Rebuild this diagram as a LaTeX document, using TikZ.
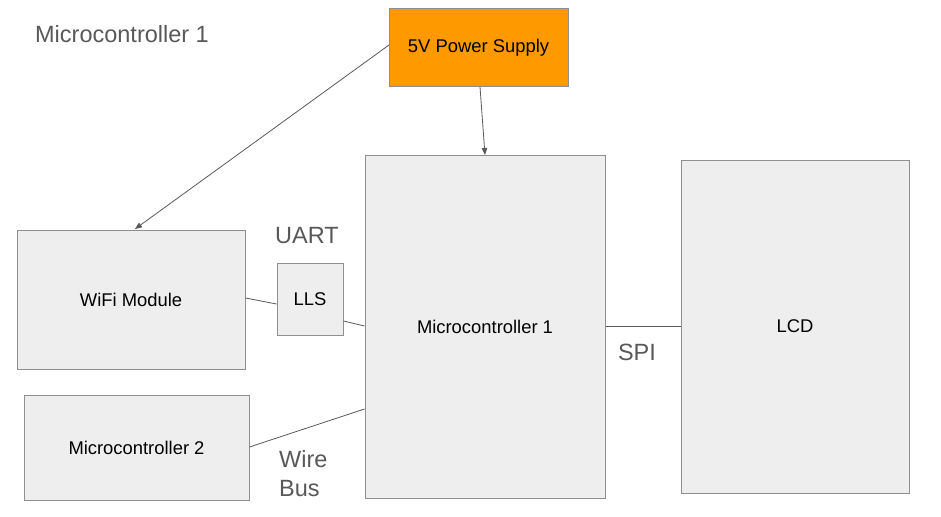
\documentclass[tikz,border=0pt]{standalone}
\usepackage{fontspec}
\setmainfont{Liberation Sans}
\usetikzlibrary{arrows.meta}
\definecolor{boxfill}{HTML}{EEEEEE}
\definecolor{boxline}{HTML}{8F8F8F}
\definecolor{wire}{HTML}{595959}
\definecolor{lbl}{HTML}{595959}
\definecolor{orng}{HTML}{FF9900}
\begin{document}
\begin{tikzpicture}[x=1pt,y=-1pt,
  blk/.style={draw=boxline,fill=boxfill,line width=1pt,inner sep=0pt,font=\fontsize{18.4}{20}\selectfont},
  conn/.style={draw=wire,line width=0.8pt},
  arr/.style={conn,-{Triangle[length=7pt,width=5.5pt]}},
  lab/.style={text=lbl,font=\fontsize{23.5}{29}\selectfont,inner sep=0pt}]
\useasboundingbox (0,0) rectangle (941,516);
\fill[white] (0,0) rectangle (941,516);
% boxes
\node[blk,fill=orng,minimum width=179pt,minimum height=78pt] (ps) at (478.5,48) {5V Power Supply};
\node[blk,minimum width=240pt,minimum height=343pt] (mc1) at (485,326.5) {Microcontroller 1};
\node[blk,minimum width=228pt,minimum height=333pt] (lcd) at (795,326.5) {LCD};
\node[blk,minimum width=228pt,minimum height=139pt] (wifi) at (131,299.5) {WiFi Module};
\node[blk,minimum width=66pt,minimum height=72pt] (lls) at (310,299) {LLS};
\node[blk,minimum width=225pt,minimum height=105pt] (mc2) at (136.5,447.5) {Microcontroller 2};
% labels
\node[lab] (t1) at (122,34) {Microcontroller 1};
\node[lab] (uart) at (307,236) {UART};
\node[lab] (spi) at (637,352) {SPI};
\node[lab,align=left,anchor=north west] (wb) at (279,450) {Wire\\Bus};
% connectors
\coordinate (psl) at (389,45);
\coordinate (wft) at (135,229);
\draw[arr] (psl) -- (wft);
\coordinate (psb) at (480,87);
\coordinate (mct) at (485,155);
\draw[arr] (psb) -- (mct);
\draw[conn] (wifi.east |- 0,298) -- (lls.west |- 0,304);
\draw[conn] (lls.east |- 0,321) -- (mc1.west |- 0,326);
\draw[conn] (mc2.east |- 0,447) -- (mc1.west |- 0,409);
\draw[conn] (mc1.east |- 0,326) -- (lcd.west |- 0,326);
\end{tikzpicture}
\end{document}
